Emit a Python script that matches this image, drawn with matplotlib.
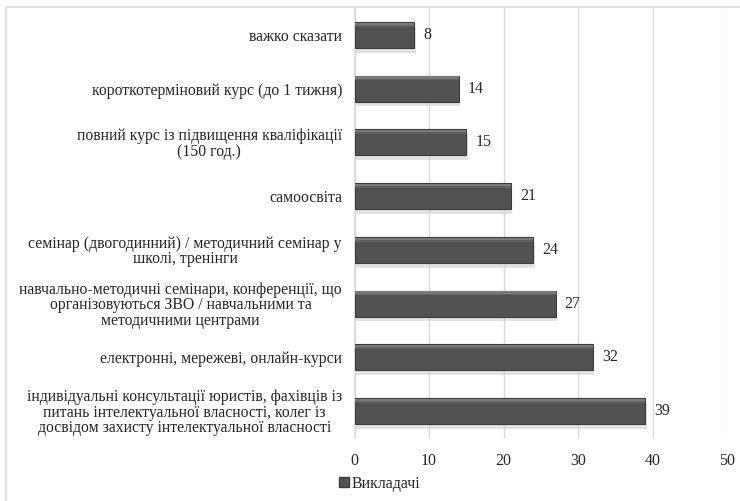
import matplotlib
matplotlib.use("Agg")
import matplotlib.pyplot as plt
from matplotlib.patches import Rectangle
from matplotlib.lines import Line2D

categories = [
    "важко сказати",
    "короткотерміновий курс (до 1 тижня)",
    "повний курс із підвищення кваліфікації\n(150 год.)",
    "самоосвіта",
    "семінар (двогодинний) / методичний семінар у\nшколі, тренінги",
    "навчально-методичні семінари, конференції, що\nорганізовуються ЗВО / навчальними та\nметодичними центрами",
    "електронні, мережеві, онлайн-курси",
    "індивідуальні консультації юристів, фахівців із\nпитань інтелектуальної власності, колег із\nдосвідом захисту інтелектуальної власності",
]
values = [8, 14, 15, 21, 24, 27, 32, 39]
series_name = "Викладачі"
xticks = [0, 10, 20, 30, 40, 50]

plt.rcParams['font.family'] = ['Liberation Serif', 'DejaVu Serif']
txt = '#262626'

fig = plt.figure(figsize=(7.40, 5.01), dpi=100)
W, H = 740, 501
# outer chart border
fig.patches.append(Rectangle((6 / W, -0.1), 1.2, 1 - 7 / H + 0.1, transform=fig.transFigure,
                             fill=False, edgecolor='#d9d9d9', linewidth=1.2))

ax = fig.add_axes([354.5 / W, 1 - 438 / H, (727 - 354.5) / W, (438 - 8) / H])
y = list(range(len(categories)))
# soft shadow
ax.barh([v + 0.09 for v in y], values, height=0.48, left=0.2, color='#cfcfcf', alpha=0.6, zorder=2)
ax.barh(y, values, height=0.48, color='#525252', edgecolor='#3c3c3c', linewidth=0.8, zorder=3)
# bevel highlight along top edge
ax.barh([v - 0.205 for v in y], values, height=0.045, color='#7a7a7a', linewidth=0, zorder=4)
ax.barh([v - 0.17 for v in y], values, height=0.03, color='#626262', linewidth=0, zorder=4)

for yi, v in zip(y, values):
    ax.text(v + 1.2, yi, str(v), va='center', ha='left', fontsize=11.5, color=txt)

ax.set_xlim(0, 50)
ax.set_ylim(len(categories) - 0.5, -0.5)
ax.set_xticks(xticks)
ax.set_xticklabels([str(t) for t in xticks], fontsize=11.5, color=txt)
ax.set_yticks(y)
ax.set_yticklabels(categories, fontsize=11.3, color=txt, multialignment='center', linespacing=0.95)
ax.tick_params(axis='both', length=0)
ax.tick_params(axis='y', pad=9)
ax.tick_params(axis='x', pad=11)
ax.grid(axis='x', color='#d9d9d9', linewidth=1.0, zorder=0)
ax.set_axisbelow(True)
for s in ['top', 'right', 'bottom']:
    ax.spines[s].set_visible(False)
ax.spines['left'].set_color('#d9d9d9')
ax.spines['left'].set_linewidth(1.2)

handle = Line2D([], [], marker='s', linestyle='none', markersize=6.5,
                markerfacecolor='#525252', markeredgecolor='#3c3c3c')
fig.legend([handle], [series_name], loc='center', bbox_to_anchor=(380 / W, 1 - 484 / H),
           frameon=False, fontsize=11.5, handlelength=0.6, handletextpad=0.15,
           labelcolor=txt)

fig.savefig('out.png', dpi=100)
